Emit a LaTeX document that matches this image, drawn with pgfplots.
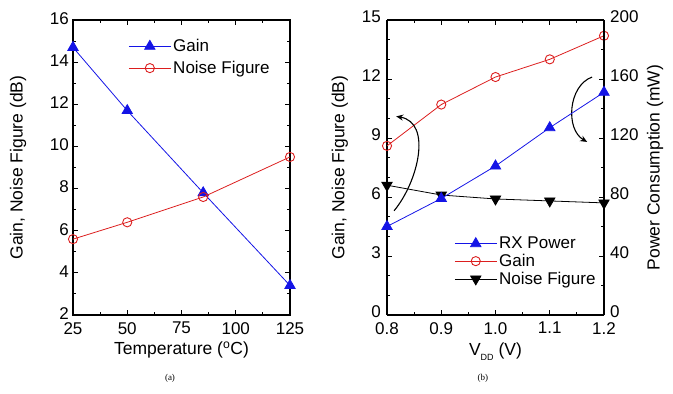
\documentclass[border=0pt]{standalone}
\usepackage{pgfplots}
\pgfplotsset{compat=1.18}
\usepackage{fontspec}
\setmainfont{Liberation Sans}
\newfontfamily\seriffont{Liberation Serif}
\usetikzlibrary{arrows.meta}
\definecolor{cblue}{RGB}{20,20,230}
\definecolor{cred}{RGB}{220,30,30}
\pgfplotsset{
  base/.style={
    scale only axis, width=217bp, height=295bp, clip mode=individual,
    /pgf/number format/assume math mode=true,
    tick label style={font=\fontsize{17bp}{19bp}\selectfont, inner sep=1bp},
    x tick label style={yshift=-6bp},
    y tick label style={xshift=-3bp, yshift=1.5bp},
    label style={font=\fontsize{17.5bp}{20bp}\selectfont},
    tick align=inside, axis line style={line width=1.1pt},
    major tick length=5bp, minor tick length=3bp,
    every tick/.style={line width=0.9pt, black},
    legend style={draw=none, fill=none, font=\fontsize{17bp}{21bp}\selectfont, inner sep=1pt},
    legend cell align=left,
    legend image code/.code={\draw[mark repeat=2,mark phase=2] plot coordinates {(0bp,0bp) (21bp,0bp) (42bp,0bp)};},
  },
  bser/.style={color=cblue, line width=0.8pt, mark=triangle*, mark size=6pt, mark options={fill=cblue, draw=cblue}},
  rser/.style={color=cred, line width=0.8pt, mark=o, mark size=4.6pt, mark options={fill=white, draw=cred, line width=0.9pt}},
  kser/.style={color=black, line width=0.8pt, mark=triangle*, mark size=6pt, mark options={rotate=180, fill=black}},
}
\begin{document}
\begin{tikzpicture}
\useasboundingbox (-73bp,-79bp) rectangle (600bp,315bp);
% ---------- (a) ----------
\begin{axis}[base,
  xmin=25, xmax=125, ymin=2, ymax=16,
  xtick={25,50,75,100,125}, ytick={2,4,...,16},
  minor x tick num=1, minor y tick num=1,
  xlabel={Temperature ($^{\mathrm{o}}$C)},
  ylabel={Gain, Noise Figure (dB)},
  xlabel style={at={(axis description cs:0.5,-0.119)}, anchor=center},
  ylabel style={at={(axis description cs:-0.253,0.5)}, anchor=center},
  legend style={at={(axis description cs:0.25,0.945)}, anchor=north west, row sep=4bp},
]
\addplot[bser] coordinates {(25,14.7) (50,11.7) (85,7.8) (125,3.4)};
\addlegendentry{Gain}
\addplot[rser] coordinates {(25,5.6) (50,6.4) (85,7.6) (125,9.5)};
\addlegendentry{Noise Figure}
\node[font=\seriffont\fontsize{9bp}{10bp}\selectfont] at (axis description cs:0.447,-0.214) {(a)};
\end{axis}
% ---------- (b) left scale ----------
\begin{axis}[base, xshift=314bp,
  xmin=0.8, xmax=1.2, ymin=0, ymax=15,
  xtick={0.8,0.9,...,1.2}, ytick={0,3,...,15},
  minor x tick num=1, minor y tick num=2,
  axis y line*=left, axis x line*=box,
  y tick label style={xshift=-2bp, yshift=1.5bp},
  x tick label style={/pgf/number format/.cd, fixed, fixed zerofill, precision=1},
  xlabel={V\raisebox{-0.5ex}{\fontsize{9bp}{10bp}\selectfont DD} (V)},
  ylabel={Gain, Noise Figure (dB)},
  xlabel style={at={(axis description cs:0.5,-0.125)}, anchor=center},
  ylabel style={at={(axis description cs:-0.217,0.5)}, anchor=center},
]
\addplot[rser] coordinates {(0.8,8.6) (0.9,10.7) (1.0,12.1) (1.1,13.0) (1.2,14.2)};
\addplot[kser] coordinates {(0.8,6.6) (0.9,6.1) (1.0,5.9) (1.1,5.8) (1.2,5.7)};
\draw[line width=1.1pt, -{Stealth[length=7bp,width=6bp]}] (axis cs:0.813,5.3) to[out=50,in=-10] (axis cs:0.817,10.1);
\draw[line width=1.1pt, -{Stealth[length=7bp,width=6bp]}] (axis cs:1.178,12.1) to[out=200,in=150] (axis cs:1.169,8.8);
\node[font=\seriffont\fontsize{9bp}{10bp}\selectfont] at (axis description cs:0.442,-0.214) {(b)};
\end{axis}
% ---------- (b) right scale ----------
\begin{axis}[base, xshift=314bp,
  xmin=0.8, xmax=1.2, ymin=0, ymax=200,
  ytick={0,40,...,200}, minor y tick num=1,
  axis y line*=right, axis x line=none,
  y tick label style={xshift=8bp, yshift=1.5bp},
  ylabel={Power Consumption (mW)},
  ylabel style={at={(axis description cs:1.235,0.5)}, anchor=center},
  legend style={at={(axis description cs:0.305,0.275)}, anchor=north west},
]
\addplot[bser] coordinates {(0.8,60) (0.9,79) (1.0,101) (1.1,127) (1.2,151)};
\addlegendentry{RX Power}
\addlegendimage{rser}
\addlegendentry{Gain}
\addlegendimage{kser}
\addlegendentry{Noise Figure}
\end{axis}
\end{tikzpicture}
\end{document}
